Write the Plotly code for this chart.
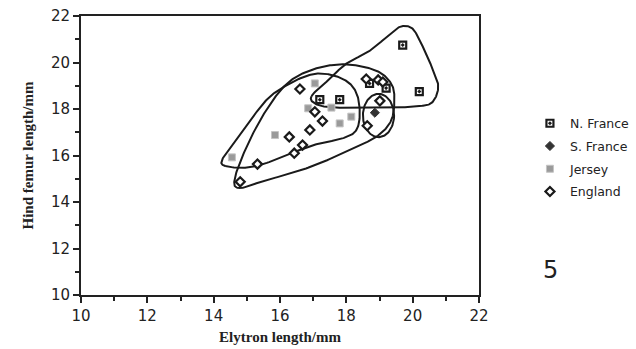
import numpy as np
import plotly.graph_objects as go

# ---- data ----
nfr_x = [17.2, 17.8, 18.7, 19.2, 19.7, 20.2]
nfr_y = [18.4, 18.4, 19.1, 18.9, 20.75, 18.75]

sfr_x = [18.86]
sfr_y = [17.84]

jer_x = [14.55, 15.85, 16.85, 17.05, 17.55, 17.8, 18.15]
jer_y = [15.92, 16.88, 18.03, 19.1, 18.06, 17.38, 17.67]

eng_x = [14.8, 15.32, 16.28, 16.43, 16.68, 16.9, 16.6, 17.05, 17.28, 18.6, 18.96, 19.1, 19.01, 18.63]
eng_y = [14.87, 15.63, 16.8, 16.1, 16.45, 17.1, 18.86, 17.88, 17.48, 19.29, 19.25, 19.16, 18.35, 17.28]

# hand-drawn enclosing outlines (control points in data units)
loop_nfr_x = [16.95, 17.5, 18.0, 18.7, 19.3, 19.65, 20.0, 20.3, 20.55, 20.77, 20.6, 20.2, 19.5, 18.5, 17.6, 17.1]
loop_nfr_y = [18.55, 19.3, 19.95, 20.5, 21.2, 21.55, 21.45, 20.7, 19.9, 19.0, 18.3, 18.12, 18.07, 18.05, 18.07, 18.2]

loop_eng_x = [14.75, 15.5, 16.9, 18.2, 18.95, 19.35, 19.45, 19.35, 18.9, 18.0, 17.1, 16.3, 15.7, 15.1, 14.65]
loop_eng_y = [14.6, 14.9, 15.5, 16.3, 16.85, 17.5, 18.4, 19.1, 19.65, 19.92, 19.75, 19.2, 18.2, 16.7, 15.1]

loop_jer_x = [14.35, 15.3, 16.9, 17.8, 18.25, 18.4, 18.35, 18.1, 17.6, 17.0, 16.3, 15.6, 14.85, 14.3]
loop_jer_y = [15.55, 15.55, 16.4, 16.7, 17.0, 17.6, 18.5, 19.1, 19.45, 19.5, 19.1, 18.4, 17.0, 15.95]

sfr_ellipse = dict(cx=18.97, cy=17.72, rx=0.47, ry=0.93)

x_ticks = [10, 12, 14, 16, 18, 20, 22]
y_ticks = [10, 12, 14, 16, 18, 20, 22]


def closed_spline(xs, ys, n=24):
    p = np.column_stack([xs, ys]).astype(float)
    m = len(p)
    out = []
    for i in range(m):
        p0, p1, p2, p3 = p[(i - 1) % m], p[i], p[(i + 1) % m], p[(i + 2) % m]
        t = np.linspace(0, 1, n, endpoint=False)[:, None]
        seg = 0.5 * ((2 * p1) + (-p0 + p2) * t + (2 * p0 - 5 * p1 + 4 * p2 - p3) * t ** 2
                     + (-p0 + 3 * p1 - 3 * p2 + p3) * t ** 3)
        out.append(seg)
    out = np.vstack(out + [p[:1]])
    return out[:, 0], out[:, 1]


fig = go.Figure()

line_style = dict(color="#1a1a1a", width=2)
for lx, ly in [(loop_nfr_x, loop_nfr_y), (loop_eng_x, loop_eng_y), (loop_jer_x, loop_jer_y)]:
    sx, sy = closed_spline(lx, ly)
    fig.add_trace(go.Scatter(x=sx, y=sy, mode="lines", line=line_style,
                             showlegend=False, hoverinfo="skip"))

th = np.linspace(0, 2 * np.pi, 120)
fig.add_trace(go.Scatter(x=sfr_ellipse["cx"] + sfr_ellipse["rx"] * np.cos(th),
                         y=sfr_ellipse["cy"] + sfr_ellipse["ry"] * np.sin(th),
                         mode="lines", line=line_style, showlegend=False, hoverinfo="skip"))

fig.add_trace(go.Scatter(x=nfr_x, y=nfr_y, mode="markers", name="N. France", legendgroup="a",
                         marker=dict(symbol="square-dot", size=7, color="white",
                                     line=dict(color="#1a1a1a", width=2.2))))
fig.add_trace(go.Scatter(x=sfr_x, y=sfr_y, mode="markers", name="S. France", legendgroup="b",
                         marker=dict(symbol="diamond", size=7, color="#333",
                                     line=dict(color="#333", width=1))))
fig.add_trace(go.Scatter(x=jer_x, y=jer_y, mode="markers", name="Jersey", legendgroup="c",
                         marker=dict(symbol="square", size=7, color="#9a9a9a",
                                     line=dict(color="#c4c4c4", width=1))))
fig.add_trace(go.Scatter(x=eng_x, y=eng_y, mode="markers", name="England", legendgroup="d",
                         marker=dict(symbol="diamond", size=7, color="white",
                                     line=dict(color="#1a1a1a", width=2.2))))

axis_common = dict(showline=True, linecolor="#222", linewidth=2, mirror=True,
                   ticks="outside", ticklen=6, tickwidth=2, tickcolor="#222",
                   showgrid=False, zeroline=False, automargin=False,
                   tickfont=dict(family="DejaVu Sans", size=15, color="#222"),
                   minor=dict(dtick=1, ticks="outside", ticklen=4, tickwidth=1.5, tickcolor="#222"))

fig.update_xaxes(range=[10, 22], tickvals=x_ticks, **axis_common,
                 title=dict(text="<b>Elytron length/mm</b>", standoff=7,
                            font=dict(family="Liberation Serif", size=15, color="#222")))
fig.update_yaxes(range=[10, 22], tickvals=y_ticks, **axis_common,
                 title=dict(text="<b>Hind femur length/mm</b>", standoff=14,
                            font=dict(family="Liberation Serif", size=15, color="#222")))

fig.update_layout(
    width=636, height=349,
    margin=dict(l=81, r=157, t=16, b=54, autoexpand=False),
    paper_bgcolor="white", plot_bgcolor="white",
    legend=dict(x=1.128, y=0.668, xanchor="left", yanchor="top",
                font=dict(family="DejaVu Sans", size=12.5, color="#222"),
                tracegroupgap=3.5, itemsizing="trace"),
    annotations=[dict(text="5", x=1.155, y=0.034, xref="paper", yref="paper",
                      showarrow=False, xanchor="left",
                      font=dict(family="DejaVu Sans", size=24, color="#222"))],
)

fig.write_html("out.html")
